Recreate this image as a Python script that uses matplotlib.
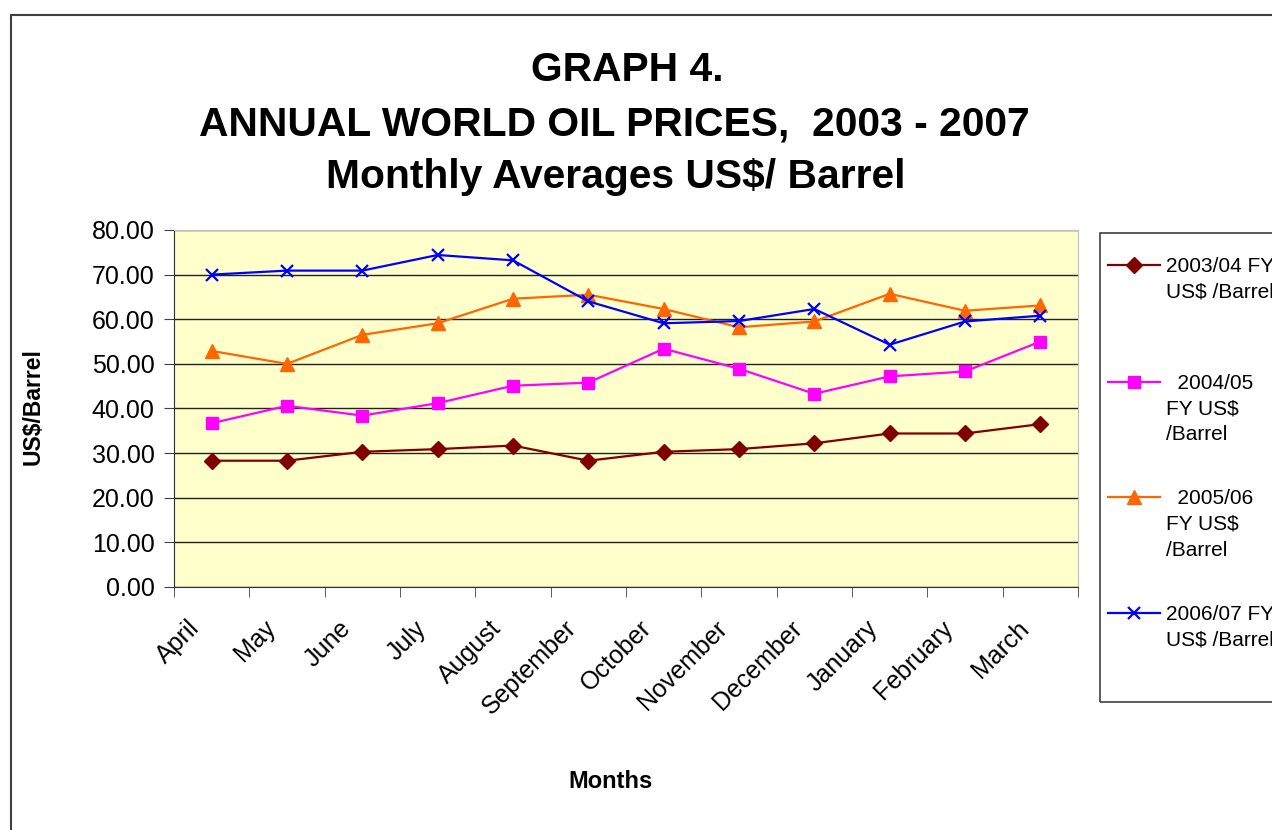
import numpy as np
import matplotlib
matplotlib.use('Agg')
import matplotlib.pyplot as plt
from matplotlib.lines import Line2D
from matplotlib.patches import Rectangle
from matplotlib.transforms import ScaledTranslation

plt.rcParams['font.family'] = ['Liberation Sans', 'DejaVu Sans']

# data (US$ per barrel, monthly averages)
months = ['April', 'May', 'June', 'July', 'August', 'September',
          'October', 'November', 'December', 'January', 'February', 'March']
fy_0304 = [28.3, 28.3, 30.3, 30.9, 31.7, 28.3, 30.3, 30.9, 32.2, 34.4, 34.4, 36.5]
fy_0405 = [36.7, 40.6, 38.4, 41.2, 45.1, 45.8, 53.4, 48.9, 43.3, 47.2, 48.3, 55.0]
fy_0506 = [52.9, 50.0, 56.5, 59.1, 64.6, 65.5, 62.3, 58.2, 59.5, 65.7, 61.9, 63.1]
fy_0607 = [70.0, 70.9, 70.9, 74.4, 73.2, 64.0, 59.1, 59.6, 62.3, 54.3, 59.5, 60.8]

series_labels = ['2003/04 FY\nUS$ /Barrel', '  2004/05\nFY US$\n/Barrel',
                 '  2005/06\nFY US$\n/Barrel', '2006/07 FY\nUS$ /Barrel']
title_lines = ['GRAPH 4.', 'ANNUAL WORLD OIL PRICES,  2003 - 2007',
               'Monthly Averages US$/ Barrel']

W, H = 1272, 830
fig = plt.figure(figsize=(W / 100, H / 100), dpi=100)

def fx(px):
  return px / W

def fy(py):
  return 1 - py / H

# outer chart border (runs off the right/bottom edges)
fig.patches.append(Rectangle((fx(11), fy(900)), fx(1400), fy(15) - fy(900),
                             transform=fig.transFigure, fill=False,
                             edgecolor='#404040', lw=1.5))

ax = fig.add_axes([fx(174), fy(587), fx(1078) - fx(174), fy(230) - fy(587)])
ax.set_facecolor('#FFFFCC')

styles = [
  dict(color='#800000', marker='D', markersize=8),
  dict(color='#FF00FF', marker='s', markersize=8.5),
  dict(color='#FF6600', marker='^', markersize=10),
  dict(color='#0000FF', marker='x', markersize=8, markeredgewidth=1.6),
]
x = np.arange(len(months))
for vals, st in zip([fy_0304, fy_0405, fy_0506, fy_0607], styles):
  ax.plot(x, vals, lw=1.6, zorder=3, **st)

ax.set_xlim(-0.5, len(months) - 0.5)
ax.set_ylim(0, 80)
ax.set_yticks(np.arange(0, 81, 10))
ax.set_yticklabels(['%.2f' % v for v in np.arange(0, 81, 10)], fontsize=18)
ax.grid(axis='y', color='#222222', lw=1.0)
ax.set_axisbelow(True)

ax.set_xticks(x)
ax.set_xticklabels(months, rotation=45, ha='right', va='top', fontsize=18)
ax.set_xticks(np.arange(-0.5, len(months)), minor=True)
ax.tick_params(axis='x', which='major', length=0, pad=21)
ax.tick_params(axis='x', which='minor', length=7, direction='out', color='#404040')
ax.tick_params(axis='y', length=7, direction='out', pad=7, color='#404040')
shift = ScaledTranslation(-7 / 100, 0, fig.dpi_scale_trans)
for lab in ax.get_xticklabels():
  lab.set_transform(lab.get_transform() + shift)

for side in ['top', 'right']:
  ax.spines[side].set_color('#c0c0c0')
for side in ['left', 'bottom']:
  ax.spines[side].set_color('#303030')

fig.text(fx(33), fy(407), 'US$/Barrel', fontsize=16.5, fontweight='bold',
         rotation=90, ha='center', va='center')
fig.text(fx(611), fy(781), 'Months', fontsize=17, fontweight='bold',
         ha='center', va='center')

title_x = [627, 614, 616]
title_y = [70, 124, 177]
for line, tx, ty in zip(title_lines, title_x, title_y):
  fig.text(fx(tx), fy(ty), line, fontsize=29.3, fontweight='bold',
           ha='center', va='center')

# legend drawn by hand so the key sits beside the first text line
fig.patches.append(Rectangle((fx(1100), fy(702)), fx(400), fy(233) - fy(702),
                             transform=fig.transFigure, fill=False,
                             edgecolor='#404040', lw=1.2))
entry_y = [265, 382, 497, 613]
for st, lab, ey in zip(styles, series_labels, entry_y):
  fig.lines.append(Line2D([fx(1108), fx(1160)], [fy(ey), fy(ey)],
                          transform=fig.transFigure, lw=1.6, color=st['color']))
  fig.lines.append(Line2D([fx(1134)], [fy(ey)], transform=fig.transFigure,
                          linestyle='none', **st))
  fig.text(fx(1166), fy(ey - 8), lab, fontsize=15, ha='left', va='top',
           linespacing=1.45)

fig.savefig('out.png', dpi=100)
